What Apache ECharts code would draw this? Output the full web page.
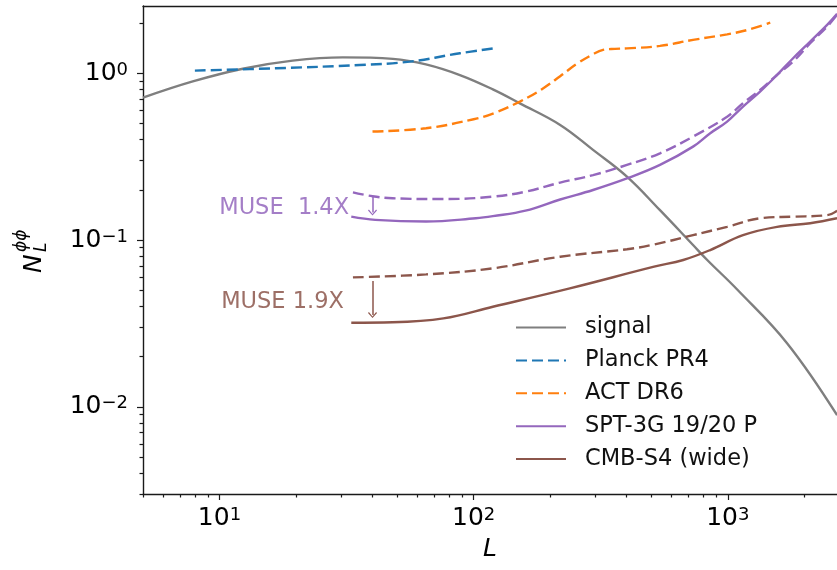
<!DOCTYPE html>
<html><head><meta charset="utf-8">
<script src="https://cdn.jsdelivr.net/npm/echarts@6/dist/echarts.min.js"></script>
<style>html,body{margin:0;padding:0;background:#fff}#c{width:837px;height:570px}</style>
</head><body><div id="c"></div>
<script>
const FONT = 'DejaVu Sans';
// axis ranges
const xMin = 5, xMax = 2690, yMin = 0.003, yMax = 2.53;
const xMajorExp = [1, 2, 3];
const yMajorExp = [-2, -1, 0];

// series data (L, N_L^{phi phi})
const signalL = [5, 7.85, 12.35, 19.4, 30.6, 48.1, 64.9, 88.3, 119, 152, 219, 295, 401, 541, 730, 830, 1089, 1714, 2692];
const signalN = [0.714, 0.893, 1.064, 1.19, 1.245, 1.22, 1.13, 0.975, 0.80, 0.66, 0.49, 0.347, 0.240, 0.151, 0.0933, 0.0759, 0.0505, 0.0240, 0.00891];

const planckL = [8, 16.7, 35.6, 56.1, 88.3, 120];
const planckN = [1.037, 1.071, 1.12, 1.174, 1.318, 1.41];

const actL = [40, 65, 100, 120, 152, 185, 219, 255, 295, 323, 360, 401, 541, 730, 994, 1200, 1469];
const actN = [0.447, 0.468, 0.53, 0.575, 0.676, 0.80, 0.96, 1.14, 1.30, 1.38, 1.40, 1.41, 1.458, 1.585, 1.71, 1.82, 2.01];

const sptQeL = [33.5, 40, 48, 76, 119, 160, 219, 295, 401, 541, 730, 994, 1148, 1340, 1563, 1807, 2110, 2460, 2692];
const sptQeN = [0.193, 0.183, 0.178, 0.176, 0.182, 0.195, 0.221, 0.245, 0.282, 0.331, 0.417, 0.549, 0.661, 0.794, 0.977, 1.174, 1.514, 1.905, 2.24];

const sptL = [33, 41, 65, 102, 119, 160, 219, 295, 401, 541, 730, 853, 994, 1148, 1340, 1563, 1807, 2110, 2460, 2692];
const sptN = [0.138, 0.132, 0.129, 0.135, 0.139, 0.150, 0.175, 0.1995, 0.234, 0.282, 0.363, 0.437, 0.513, 0.631, 0.776, 0.977, 1.23, 1.549, 1.95, 2.27];

const s4QeL = [33.5, 65, 119, 219, 401, 513, 730, 994, 1340, 1807, 2460, 2692];
const s4QeN = [0.0597, 0.0622, 0.0676, 0.0794, 0.088, 0.094, 0.107, 0.120, 0.135, 0.138, 0.141, 0.150];

const s4L = [33, 48, 76, 119, 239, 513, 668, 853, 1148, 1563, 2110, 2692];
const s4N = [0.0319, 0.0321, 0.0339, 0.0398, 0.0513, 0.0692, 0.0759, 0.0871, 0.107, 0.120, 0.126, 0.135];

// annotations: arrow L, arrow from/to, text anchor (right end) L and N
const museSptArrowL = 40, museSptArrowFrom = 0.182, museSptArrowTo = 0.146;
const museSptText = 'MUSE  1.4X', museSptTextL = 32.5, museSptTextN = 0.1556;
const museS4ArrowL = 40, museS4ArrowFrom = 0.0568, museS4ArrowTo = 0.0355;
const museS4Text = 'MUSE 1.9X', museS4TextL = 31.0, museS4TextN = 0.0425;

const legendNames = ['signal', 'Planck PR4', 'ACT DR6', 'SPT-3G 19/20 P', 'CMB-S4 (wide)'];

const C = {gray: '#7f7f7f', blue: '#1f77b4', orange: '#ff7f0e', purple: '#9467bd', brown: '#8c564b'};

const lg = Math.log10;
function pairs(a, b) { return a.map((v, i) => [v, b[i]]); }
function minorTicks(lo, hi) {
  const out = [];
  for (let e = Math.floor(lg(lo)) - 1; e <= Math.ceil(lg(hi)); e++) {
    for (let k = 2; k <= 9; k++) {
      const v = k * Math.pow(10, e);
      if (v >= lo * 0.999 && v <= hi * 1.001) out.push(lg(v));
    }
  }
  return out;
}
const expFmt = v => '{b|10}{s|' + String(Math.round(v)).replace('-', '\u2212') + '}';
const rich = {
  b: {fontFamily: FONT, fontSize: 25, color: '#000', lineHeight: 24},
  s: {fontFamily: FONT, fontSize: 18, color: '#000', lineHeight: 18, verticalAlign: 'top'}
};
const chevron = 'path://M5,0 L10,8 L9,9.6 L5,2.6 L1,9.6 L0,8 Z';

function line(name, L, N, color, dashed, z) {
  return {
    name, type: 'line', xAxisIndex: 0, yAxisIndex: 0, data: pairs(L, N),
    symbol: 'none', showSymbol: false, smooth: 0.4, z: z, silent: true, animation: false,
    lineStyle: {color, width: 2.4, type: dashed ? [11, 5] : 'solid', cap: 'butt'},
    itemStyle: {color}
  };
}
function arrow(L, from, to, color) {
  return {
    silent: true, animation: false, symbol: ['none', chevron], symbolSize: [9, 6],
    lineStyle: {color, width: 1.5, type: 'solid'}, label: {show: false},
    emphasis: {disabled: true},
    data: [[{coord: [L, from]}, {coord: [L, to]}]]
  };
}
function note(text, L, N, color) {
  return {
    silent: true, animation: false, symbol: 'circle', symbolSize: 1,
    itemStyle: {color: 'rgba(0,0,0,0)'},
    label: {show: true, position: 'left', distance: 0, formatter: text,
      fontFamily: FONT, fontSize: 22.5, color},
    data: [{coord: [L, N]}]
  };
}

const sptSolid = line('SPT-3G 19/20 P', sptL, sptN, C.purple, false, 5);
sptSolid.markLine = arrow(museSptArrowL, museSptArrowFrom, museSptArrowTo, C.purple);
sptSolid.markPoint = note(museSptText, museSptTextL, museSptTextN, 'rgba(148,103,189,0.85)');
const s4Solid = line('CMB-S4 (wide)', s4L, s4N, C.brown, false, 5);
s4Solid.markLine = arrow(museS4ArrowL, museS4ArrowFrom, museS4ArrowTo, C.brown);
s4Solid.markPoint = note(museS4Text, museS4TextL, museS4TextN, 'rgba(140,86,75,0.85)');

const spine = {show: true, onZero: false, lineStyle: {color: '#1a1a1a', width: 1.4}};
const noLine = {show: false, onZero: false};
const tickStyle = {color: '#1a1a1a', width: 1.2};

const option = {
  animation: false,
  backgroundColor: '#fff',
  grid: {left: 143, right: 0, top: 6, bottom: 76, show: false, outerBoundsMode: 'none', containLabel: false},
  xAxis: [
    {type: 'log', logBase: 10, min: xMin, max: xMax, position: 'bottom', axisLine: spine,
      axisTick: {show: false}, axisLabel: {show: false}, splitLine: {show: false}, minorTick: {show: false}},
    {type: 'value', min: lg(xMin), max: lg(xMax), position: 'bottom', axisLine: noLine,
      axisTick: {show: true, inside: false, length: 6, lineStyle: tickStyle, customValues: xMajorExp},
      axisLabel: {show: true, margin: 12, customValues: xMajorExp, formatter: expFmt, rich: rich},
      splitLine: {show: false},
      name: 'L', nameLocation: 'middle', nameGap: 43,
      nameTextStyle: {fontFamily: FONT, fontSize: 25, fontStyle: 'italic', color: '#000'}},
    {type: 'value', min: lg(xMin), max: lg(xMax), position: 'bottom', axisLine: noLine,
      axisTick: {show: true, inside: false, length: 3.5, lineStyle: tickStyle, customValues: minorTicks(xMin, xMax)},
      axisLabel: {show: false}, splitLine: {show: false}},
    {type: 'log', logBase: 10, min: xMin, max: xMax, position: 'top', axisLine: spine,
      axisTick: {show: false}, axisLabel: {show: false}, splitLine: {show: false}}
  ],
  yAxis: [
    {type: 'log', logBase: 10, min: yMin, max: yMax, position: 'left', axisLine: spine,
      axisTick: {show: false}, axisLabel: {show: false}, splitLine: {show: false}, minorTick: {show: false}},
    {type: 'value', min: lg(yMin), max: lg(yMax), position: 'left', axisLine: noLine,
      axisTick: {show: true, inside: false, length: 6, lineStyle: tickStyle, customValues: yMajorExp},
      axisLabel: {show: true, margin: 15, customValues: yMajorExp, formatter: expFmt, rich: rich},
      splitLine: {show: false}},
    {type: 'value', min: lg(yMin), max: lg(yMax), position: 'left', axisLine: noLine,
      axisTick: {show: true, inside: false, length: 3.5, lineStyle: tickStyle, customValues: minorTicks(yMin, yMax)},
      axisLabel: {show: false}, splitLine: {show: false}}
  ],
  legend: {
    data: legendNames, orient: 'vertical', left: 515, top: 316, padding: 0, selectedMode: false,
    itemWidth: 50, itemHeight: 20, itemGap: 9.9,
    itemStyle: {color: 'rgba(0,0,0,0)', borderColor: 'rgba(0,0,0,0)', borderWidth: 0, opacity: 0},
    textStyle: {fontFamily: FONT, fontSize: 22.5, color: '#111', padding: [0, 0, 0, 14]}
  },
  series: [
    line('signal', signalL, signalN, C.gray, false, 3),
    line('Planck PR4', planckL, planckN, C.blue, true, 4),
    line('ACT DR6', actL, actN, C.orange, true, 4),
    line('SPT-3G 19/20 P (QE)', sptQeL, sptQeN, C.purple, true, 4),
    sptSolid,
    line('CMB-S4 (wide) (QE)', s4QeL, s4QeN, C.brown, true, 4),
    s4Solid
  ],
  graphic: [{
    type: 'group', x: 43, y: 273, rotation: Math.PI / 2, silent: true,
    children: [
      {type: 'text', x: 0, y: -9, style: {text: 'N', font: 'italic 25px "DejaVu Sans"', fill: '#000', textAlign: 'left', textVerticalAlign: 'middle'}},
      {type: 'text', x: 21, y: -1.5, style: {text: 'L', font: 'italic 17px "DejaVu Sans"', fill: '#000', textAlign: 'left', textVerticalAlign: 'middle'}},
      {type: 'text', x: 21, y: -21, style: {text: '\u03d5\u03d5', font: 'italic 17px "DejaVu Sans"', fill: '#000', textAlign: 'left', textVerticalAlign: 'middle'}}
    ]
  }]
};
const chart = echarts.init(document.getElementById('c'), null, {renderer: 'canvas'});
chart.setOption(option);
</script>
</body></html>
